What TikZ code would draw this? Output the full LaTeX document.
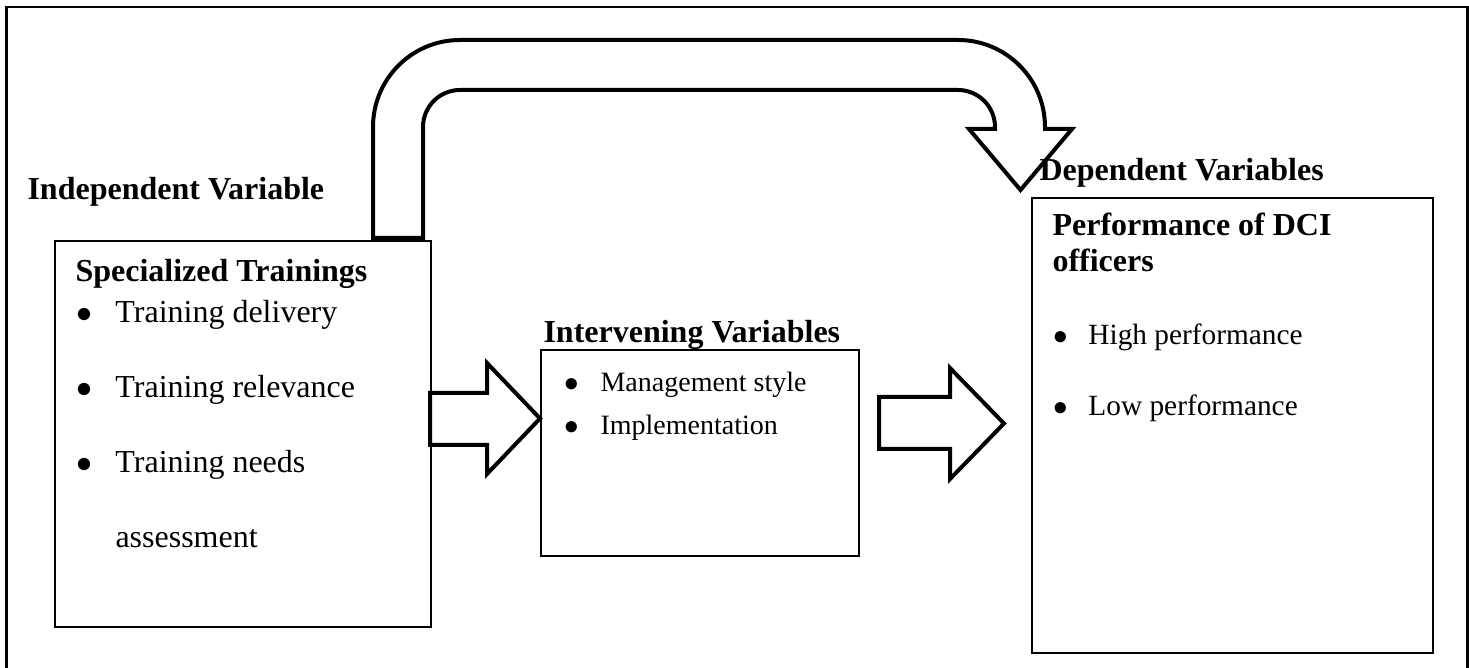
\documentclass[tikz,border=0pt]{standalone}
\usepackage{fontspec}
\setmainfont{Liberation Serif}
\usetikzlibrary{fit}

\newcommand{\itm}[2]{\makebox[#1][l]{$\bullet$}#2}

\begin{document}
\begin{tikzpicture}[
  x=0.375pt, y=-0.375pt,
  box/.style={draw, line width=0.6pt, inner sep=0pt},
  frame/.style={draw, line width=1pt},
  blk/.style={draw, line width=1.5pt, line join=miter},
  ttl/.style={font=\bfseries\fontsize{12}{14}\selectfont, anchor=base west, inner sep=0pt},
  lbl/.style={anchor=base west, inner sep=0pt},
]
\useasboundingbox (0,0) rectangle (1469,668);
\draw[frame] (6.5,668) -- (6.5,7) -- (1467.5,7) -- (1467.5,668);

% boxes
\node[box, fit={(55,241) (431,627)}] (spec) {};
\node[box, fit={(541,350) (859,556)}] (interv) {};
\node[box, fit={(1032,198) (1433,653)}] (perf) {};

% independent variable
\node[ttl] (indep) at (27,200) {Independent Variable};
\node[ttl] (specT) at (75,282) {Specialized Trainings};
\node[lbl, font=\fontsize{12}{14}\selectfont] (sp1) at (76,323) {\itm{14.6pt}{Training delivery}};
\node[lbl, font=\fontsize{12}{14}\selectfont] (sp2) at (76,398) {\itm{14.6pt}{Training relevance}};
\node[lbl, font=\fontsize{12}{14}\selectfont] (sp3) at (76,473) {\itm{14.6pt}{Training needs}};
\node[lbl, font=\fontsize{12}{14}\selectfont] (sp4) at (115,548) {assessment};

% intervening variables
\node[ttl] (intT) at (543,343) {Intervening Variables};
\node[lbl, font=\fontsize{10.5}{12}\selectfont] (in1) at (563.5,392) {\itm{13.7pt}{Management style}};
\node[lbl, font=\fontsize{10.5}{12}\selectfont] (in2) at (563.5,435) {\itm{13.7pt}{Implementation}};

% dependent variables
\node[ttl] (depT) at (1039,181) {Dependent Variables};
\node[ttl] (perfT) at (1052,236) {Performance of DCI};
\node[ttl] (perfT2) at (1052,272) {officers};
\node[lbl, font=\fontsize{11}{13}\selectfont] (pf1) at (1053,345) {\itm{13.1pt}{High performance}};
\node[lbl, font=\fontsize{11}{13}\selectfont] (pf2) at (1053,416) {\itm{13.1pt}{Low performance}};

% bent arrow over the top
\draw[blk] (373,238) -- (373,127) arc[start angle=180, end angle=270, radius=87]
  -- (958,40) arc[start angle=270, end angle=360, radius=87]
  -- (1045,129) -- (1072,129) -- (1020.5,190) -- (969,129) -- (995,129)
  -- (995,127) arc[start angle=0, end angle=-90, radius=37]
  -- (460,90) arc[start angle=270, end angle=180, radius=37]
  -- (423,238) -- cycle;

% block arrows
\draw[blk] (430,393) -- (487,393) -- (487,363) -- (540,418.5) -- (487,474) -- (487,445) -- (430,445) -- cycle;
\draw[blk] (879,397) -- (950,397) -- (950,368) -- (1004,423.5) -- (950,479) -- (950,449) -- (879,449) -- cycle;
\end{tikzpicture}
\end{document}
